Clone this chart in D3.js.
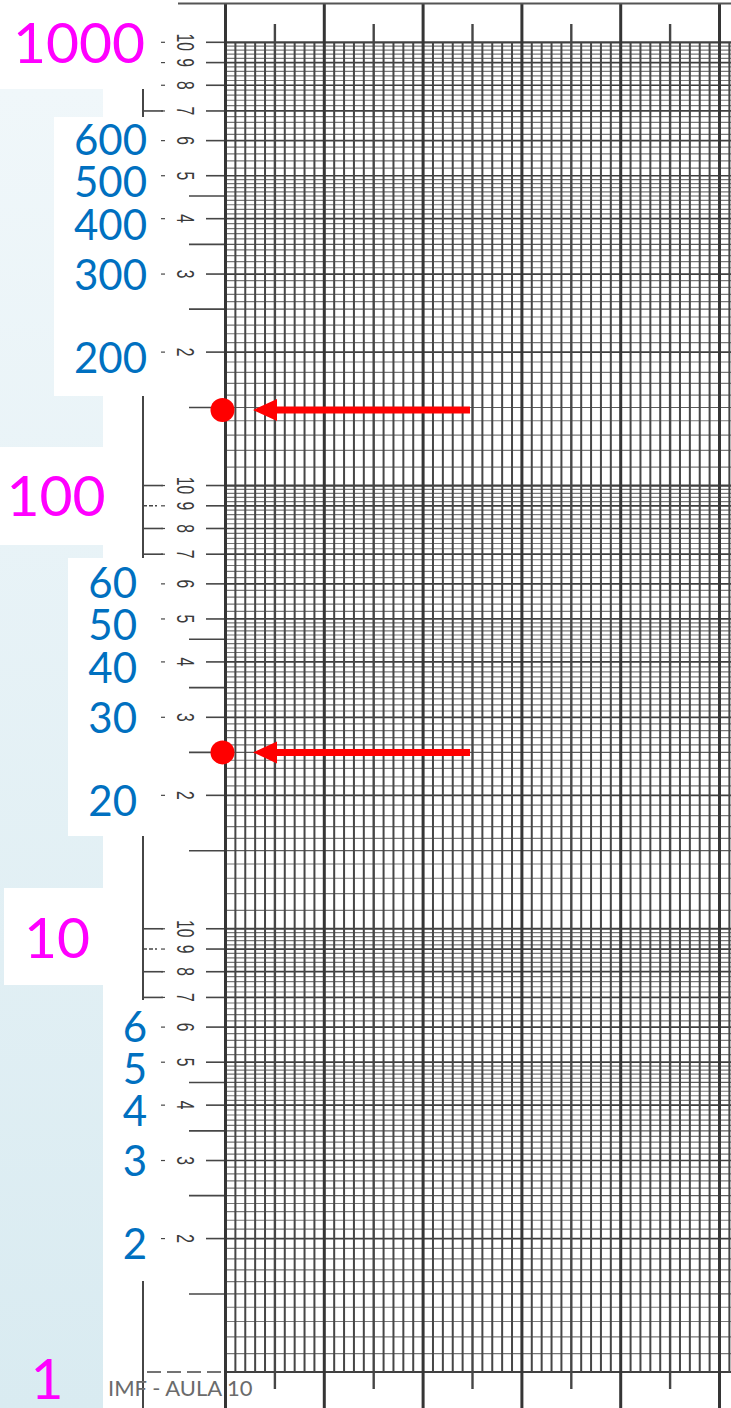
<!DOCTYPE html>
<html>
<head>
<meta charset="utf-8">
<script src="https://cdn.jsdelivr.net/npm/d3@7"></script>
<style>
  body { margin: 0; background: #fff; }
  svg { display: block; }
</style>
</head>
<body>
<svg id="chart" width="731" height="1408"></svg>
<script>
// log paper, 3 cycles (1 .. 1000)
var decadeLabels = [1000, 100, 10, 1];
var blueTop = [600, 500, 400, 300, 200];
var blueMid = [60, 50, 40, 30, 20];
var blueBot = [6, 5, 4, 3, 2];
var paperDigits = [2, 3, 4, 5, 6, 7, 8, 9, 10];
var halfMarks = [1.5, 2.5, 3.5, 4.5];
var rulerMarks = [7, 8, 9, 10];
var points = [148, 25];

var W = 731, H = 1408;
var svg = d3.select('#chart');

var y = d3.scaleLog().domain([1, 1000]).range([1372, 42.3]);
// x is plain linear, 5 big squares (+ a bit cut off at the right)
var x = d3.scaleLinear().domain([0, 5]).range([225.5, 719.5]);
var xEnd = x.invert(W);

var ink = '#464646';

// slide text boxes don't sit exactly on the lines, small nudges (px) by leading digit
var blueNudge = {6: -0.5, 5: 6.5, 4: 6, 3: 0.8, 2: 5.5};
var magNudge = {1000: 0, 100: 10, 10: 9, 1: 6};
var magX = {1000: 79, 100: 56, 10: 57, 1: 47};

// light blue side panel
var defs = svg.append('defs');
var grad = defs.append('linearGradient').attr('id', 'panel')
    .attr('x1', 0).attr('y1', 0).attr('x2', 0).attr('y2', 1);
grad.append('stop').attr('offset', '0%').attr('stop-color', '#f0f7fa');
grad.append('stop').attr('offset', '100%').attr('stop-color', '#d9ebf1');
svg.append('rect').attr('x', 0).attr('y', 89).attr('width', 103).attr('height', H - 89)
    .attr('fill', 'url(#panel)');

// left ruler line with feet at the 7s
svg.append('line').attr('x1', 143).attr('x2', 143).attr('y1', 0).attr('y2', H)
    .attr('stroke', ink).attr('stroke-width', 2);
[1, 10, 100].forEach(function(dec){
    rulerMarks.forEach(function(m){
        svg.append('line').attr('x1', 143).attr('x2', m == 9 ? 157 : 163)
            .attr('y1', y(m * dec)).attr('y2', y(m * dec))
            .attr('stroke', ink).attr('stroke-width', 1.6)
            .attr('stroke-dasharray', m == 9 ? '4,2' : null);
    });
});

// white boxes behind the slide labels
var boxes = [
    {x: 0, y: 0, w: 176, h: 89},
    {x: 54, y: 117, w: 92, h: 279},
    {x: 0, y: 447, w: 103, h: 98},
    {x: 68, y: 558, w: 78, h: 278},
    {x: 4, y: 888, w: 99, h: 97},
    {x: 112, y: 1000, w: 34, h: 281}
];
svg.selectAll('rect.box').data(boxes).enter().append('rect')
    .attr('class', 'box')
    .attr('x', function(d){ return d.x; }).attr('y', function(d){ return d.y; })
    .attr('width', function(d){ return d.w; }).attr('height', function(d){ return d.h; })
    .attr('fill', '#fff');

// tick marks and rotated digits printed on the paper
[1, 10, 100].forEach(function(dec){
    paperDigits.forEach(function(m){
        var yy = y(m * dec);
        svg.append('line').attr('x1', 206).attr('x2', 226).attr('y1', yy).attr('y2', yy)
            .attr('stroke', ink).attr('stroke-width', 1.6);
        svg.append('line').attr('x1', 161).attr('x2', 165).attr('y1', yy).attr('y2', yy)
            .attr('stroke', ink).attr('stroke-width', 1.2);
        svg.append('text')
            .attr('transform', 'translate(185,' + yy + ') rotate(90) scale(0.68,1)')
            .attr('text-anchor', 'middle').attr('dominant-baseline', 'central')
            .attr('font-family', 'Liberation Sans, sans-serif').attr('font-size', 23)
            .attr('fill', '#3a3a3a').text(m);
    });
    halfMarks.forEach(function(m){
        var yy = y(m * dec);
        svg.append('line').attr('x1', 189).attr('x2', 226).attr('y1', yy).attr('y2', yy)
            .attr('stroke', ink).attr('stroke-width', 1.6);
    });
});
// bottom edge runs out to the ruler
svg.append('line').attr('x1', 147).attr('x2', 226).attr('y1', y(1)).attr('y2', y(1))
    .attr('stroke', ink).attr('stroke-width', 1.6).attr('stroke-dasharray', '14,6');

// horizontal grid: 0.1 steps up to 5, 0.2 steps from 5 to 10
var grid = svg.append('g');
[1, 10, 100].forEach(function(dec){
    var vals = d3.range(10, 50, 1).map(function(v){ return v / 10; })
        .concat(d3.range(50, 100, 2).map(function(v){ return v / 10; }));
    vals.forEach(function(m){
        var whole = Math.abs(m - Math.round(m)) < 1e-9;
        var half = Math.abs(m * 2 - Math.round(m * 2)) < 1e-9;
        grid.append('line').attr('x1', x(0)).attr('x2', W)
            .attr('y1', y(m * dec)).attr('y2', y(m * dec))
            .attr('stroke', whole ? '#404040' : (half ? '#5c5c5c' : '#777'))
            .attr('stroke-width', m == 1 ? 2.2 : (whole ? 1.7 : 1.2));
    });
});
grid.append('line').attr('x1', x(0)).attr('x2', W).attr('y1', y(1000)).attr('y2', y(1000))
    .attr('stroke', '#404040').attr('stroke-width', 2.2);

// vertical grid
var xv = d3.range(0, Math.floor(xEnd * 10) + 1).map(function(i){ return i / 10; });
xv.forEach(function(v){
    var i = Math.round(v * 10);
    var major = i % 10 == 0, half = i % 5 == 0;
    grid.append('line')
        .attr('x1', x(v)).attr('x2', x(v))
        .attr('y1', major ? 3 : (half ? 24 : y(1000)))
        .attr('y2', major ? H : (half ? 1389 : y(1)))
        .attr('stroke', major ? '#353535' : ink)
        .attr('stroke-width', major ? 3 : (half ? 2.4 : 2));
});
// top edge of the sheet
svg.append('line').attr('x1', 178).attr('x2', W).attr('y1', 3.5).attr('y2', 3.5)
    .attr('stroke', '#555').attr('stroke-width', 2);

// slide labels (baseline = ink centre + half cap height)
svg.selectAll('text.dec').data(decadeLabels).enter().append('text')
    .attr('class', 'dec')
    .attr('x', function(d){ return magX[d]; })
    .attr('y', function(d){ return y(d) + magNudge[d] + 20.5; })
    .attr('text-anchor', 'middle')
    .attr('font-family', 'Lato, sans-serif').attr('font-size', 57)
    .attr('fill', '#ff00ff').text(function(d){ return d; });

function blueLabels(list, right){
    svg.selectAll(null).data(list).enter().append('text')
        .attr('x', right)
        .attr('y', function(d){
            var lead = +String(d)[0];
            return y(d) + blueNudge[lead] + 15;
        })
        .attr('text-anchor', 'end')
        .attr('font-family', 'Lato, sans-serif').attr('font-size', 42)
        .attr('fill', '#0070c0').text(function(d){ return d; });
}
blueLabels(blueTop, 147);
blueLabels(blueMid, 137);
blueLabels(blueBot, 147);

svg.append('text').attr('x', 108).attr('y', 1396)
    .attr('font-family', 'Lato, sans-serif').attr('font-size', 22)
    .attr('fill', '#6b6b6b').text('IMF - AULA 10');

// read-off points and arrows
var marks = svg.append('g');
points.forEach(function(v){
    var yy = y(v);
    marks.append('path')
        .attr('d', 'M253,' + yy + ' L277,' + (yy - 11) + ' L277,' + (yy - 3.5) +
            ' L470,' + (yy - 3.5) + ' L470,' + (yy + 3.5) + ' L277,' + (yy + 3.5) +
            ' L277,' + (yy + 11) + ' Z')
        .attr('fill', '#ff0000');
    marks.append('circle').attr('cx', 222.5).attr('cy', yy).attr('r', 12)
        .attr('fill', '#ff0000');
});
</script>
</body>
</html>
